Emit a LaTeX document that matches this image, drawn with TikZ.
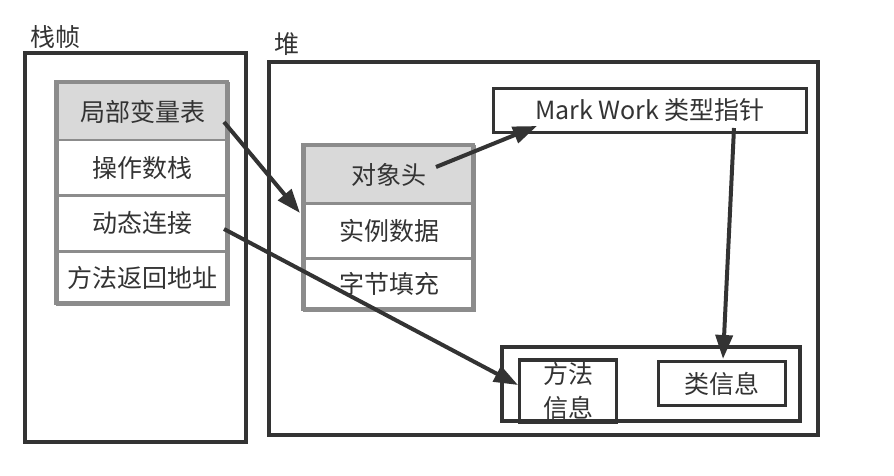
\documentclass[tikz,border=0pt]{standalone}
\usepackage{fontspec}
\setmainfont{Noto Sans CJK SC}
\usetikzlibrary{arrows.meta}
\definecolor{dk}{HTML}{333333}
\definecolor{gr}{HTML}{8C8C8C}
\definecolor{hd}{HTML}{D9D9D9}
\begin{document}
\begin{tikzpicture}[x=1pt,y=-1pt,
  every node/.style={font=\fontsize{25}{30}\selectfont, text=dk, inner sep=0pt},
  frame/.style={draw=dk, line width=3.5pt, rectangle},
  cell/.style={draw=gr, line width=2.5pt, rectangle, anchor=north west},
  ptr/.style={draw=dk, line width=4pt, -{Triangle[length=24pt,width=17pt]}},
  lbl/.style={anchor=center}]
\useasboundingbox (0,0) rectangle (894,476);
% labels
\node[lbl] (lstack) at (55,37) {栈帧};
\node[lbl] (lheap) at (287,44) {堆};
% stack frame outer box
\draw[frame] (25,53) rectangle (246,442);
% stack table
\node[cell, fill=hd, minimum width=171pt, minimum height=57pt] (lv) at (56,82) {局部变量表};
\node[cell, minimum width=171pt, minimum height=55pt] (os) at (56,139) {操作数栈};
\node[cell, minimum width=171pt, minimum height=56pt] (dl) at (56,194) {动态连接};
\node[cell, minimum width=171pt, minimum height=53pt] (ra) at (56,250) {方法返回地址};
\draw[draw=gr, line width=3.5pt] (56,82) rectangle (227,303);
% heap outer box
\draw[frame] (269,62) rectangle (818,435);
% object table
\node[cell, fill=hd, minimum width=170pt, minimum height=57pt] (oh) at (303,145) {对象头};
\node[cell, minimum width=170pt, minimum height=55pt] (id) at (303,202) {实例数据};
\node[cell, minimum width=170pt, minimum height=52pt] (pd) at (303,257) {字节填充};
\draw[draw=gr, line width=3.5pt] (303,145) rectangle (473,309);
% mark work box
\node[frame, minimum width=313pt, minimum height=44pt] (mw) at (650,110.5) {Mark Work 类型指针};
% method area
\draw[frame] (502,347) rectangle (800,421);
\node[frame, minimum width=97pt, minimum height=62pt, align=center, font=\fontsize{25}{34}\selectfont] (mi) at (568,391) {方法\\信息};
\node[frame, minimum width=127pt, minimum height=44pt] (ci) at (722,383.5) {类信息};
% anchors for connectors
\coordinate (a1) at (224,122);
\coordinate (b1) at (300,213);
\coordinate (a2) at (436,167);
\coordinate (b2) at (537,126);
\coordinate (a3) at (734,128);
\coordinate (b3) at (723,359);
\coordinate (a4) at (224,229);
\coordinate (b4) at (518,385);
\draw[ptr] (a1) -- (b1);
\draw[ptr] (a2) -- (b2);
\draw[ptr] (a3) -- (b3);
\draw[ptr] (a4) -- (b4);
\end{tikzpicture}
\end{document}
